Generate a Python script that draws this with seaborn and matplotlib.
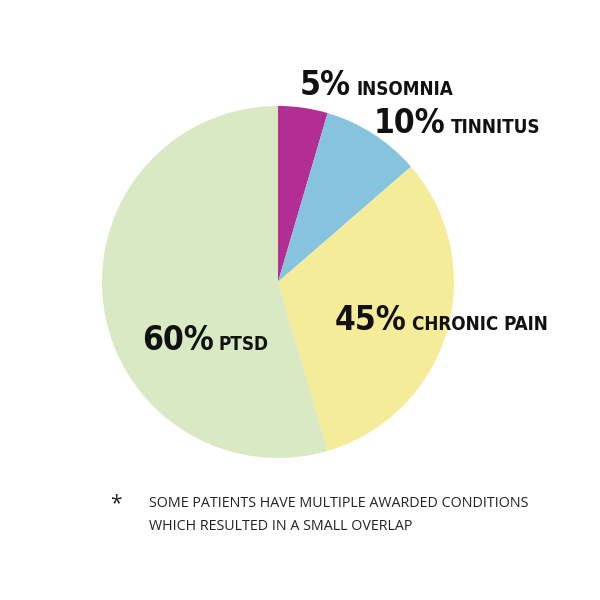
import matplotlib
matplotlib.use("Agg")
import matplotlib.pyplot as plt
import seaborn as sns

sns.set_theme(style="white")
plt.rcParams['font.family'] = ['DejaVu Sans']

# data (wedge sizes as drawn, labels as printed)
conditions = ["INSOMNIA", "TINNITUS", "CHRONIC PAIN", "PTSD"]
wedge_values = [5, 10, 35, 60]
pct_labels = ["5%", "10%", "45%", "60%"]
colors = ["#b22d94", "#86c3df", "#f4ec98", "#d9e9c3"]

fig = plt.figure(figsize=(6, 6), dpi=100)
ax = fig.add_axes([0.17, 0.2367, 0.5867, 0.5867])
ax.pie(wedge_values, colors=colors, startangle=90, counterclock=False,
       radius=1, wedgeprops=dict(linewidth=0))
ax.set_xlim(-1, 1)
ax.set_ylim(-1, 1)
ax.set_aspect("equal")
ax.axis("off")

# label anchors in pixels: left of the number, baseline
spots = [(300, 95), (374, 133), (335, 330), (142, 350)]
nums = []
for (nx, by), pct in zip(spots, pct_labels):
    t = ax.text((nx - 278) / 176, (282 - by) / 176, pct, fontsize=24,
                fontweight="bold", fontstretch="condensed", ha="left",
                va="baseline", color="#111111")
    nums.append(t)

fig.canvas.draw()
r = fig.canvas.get_renderer()
inv = ax.transData.inverted()
for t, name in zip(nums, conditions):
    bb = t.get_window_extent(r)
    x0, _ = inv.transform((bb.x1 + 5, 0))
    ax.text(x0, t.get_position()[1], name, fontsize=13.5, fontweight="bold",
            fontstretch="condensed", ha="left", va="baseline", color="#111111")

fig.text(116 / 600, 1 - 509 / 600, "*", fontsize=15, ha="center",
         va="baseline", family="Open Sans", color="#222222")
fig.text(149 / 600, 1 - 507 / 600, "SOME PATIENTS HAVE MULTIPLE AWARDED CONDITIONS",
         fontsize=10.3, family="Open Sans", ha="left", va="baseline", color="#222222")
fig.text(149 / 600, 1 - 530 / 600, "WHICH RESULTED IN A SMALL OVERLAP",
         fontsize=10.3, family="Open Sans", ha="left", va="baseline", color="#222222")

fig.savefig("out.png", dpi=100, facecolor="white")
